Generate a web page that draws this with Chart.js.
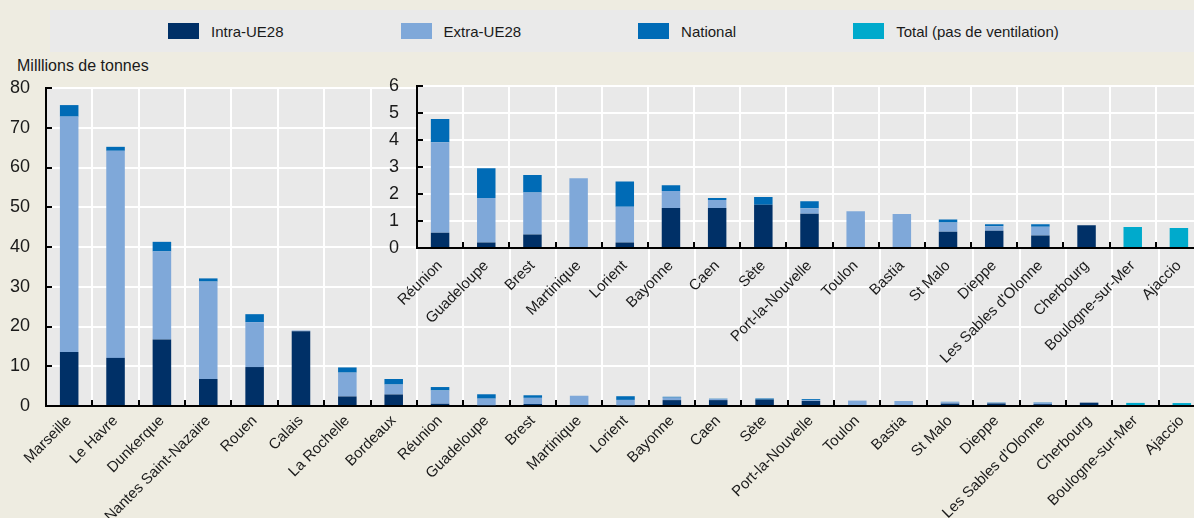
<!DOCTYPE html>
<html lang="fr">
<head>
<meta charset="utf-8">
<title>Trafic des ports français</title>
<script src="https://cdn.jsdelivr.net/npm/chart.js@4.4.1/dist/chart.umd.min.js"></script>
<style>
  html, body { margin: 0; padding: 0; background: #eeece1; overflow: hidden; }
  body { width: 1194px; height: 518px; position: relative; font-family: "Liberation Sans", Arial, sans-serif; }
  #legend { position: absolute; left: 50px; top: 10px; width: 1144px; height: 42px; background: #eaeaea;
            display: flex; align-items: center; padding-left: 118px; box-sizing: border-box; }
  .item { display: flex; align-items: center; margin-right: 117px; font-size: 15px; color: #1a1a1a; }
  .swatch { width: 31px; height: 16px; margin-right: 12px; }
  #unit { position: absolute; left: 17px; top: 58px; font-size: 16px; line-height: 16px; color: #1a1a1a; }
  #mainWrap { position: absolute; left: 0; top: 0; }
  #insetWrap { position: absolute; left: 360px; top: 57px; }
  canvas { display: block; }
</style>
</head>
<body>
<div id="legend"></div>
<div id="unit">Milllions de tonnes</div>
<div id="mainWrap"><canvas id="mainChart" width="1205" height="518"></canvas></div>
<div id="insetWrap"><canvas id="insetChart" width="842" height="321"></canvas></div>
<script>
// Ports, millions of tonnes
const ports = ["Marseille", "Le Havre", "Dunkerque", "Nantes Saint-Nazaire", "Rouen", "Calais",
  "La Rochelle", "Bordeaux", "Réunion", "Guadeloupe", "Brest", "Martinique", "Lorient", "Bayonne",
  "Caen", "Sète", "Port-la-Nouvelle", "Toulon", "Bastia", "St Malo", "Dieppe",
  "Les Sables d'Olonne", "Cherbourg", "Boulogne-sur-Mer", "Ajaccio"];

const intraUE = [13.6, 12.1, 16.7, 6.8, 9.8, 18.8, 2.4, 2.9, 0.56, 0.2, 0.5, null, 0.2, 1.48,
  1.48, 1.6, 1.27, null, null, 0.6, 0.64, 0.46, 0.84, null, null];
const extraUE = [59.2, 52.1, 22.2, 24.5, 11.3, 0.2, 6.0, 2.5, 3.35, 1.65, 1.55, 2.58, 1.33, 0.63,
  0.3, -0.03, 0.2, 1.36, 1.26, 0.34, 0.16, 0.33, null, null, null];
const national = [2.9, 1.0, 2.4, 0.8, 2.0, null, 1.3, 1.4, 0.86, 1.1, 0.65, null, 0.93, 0.21,
  0.07, 0.29, 0.26, null, null, 0.11, 0.08, 0.09, null, null, null];
const totalOnly = [null, null, null, null, null, null, null, null, null, null, null, null, null, null,
  null, null, null, null, null, null, null, null, null, 0.78, 0.74];

const seriesNames = ["Intra-UE28", "Extra-UE28", "National", "Total (pas de ventilation)"];
const seriesColors = ["#003067", "#7fa8d9", "#006bb6", "#00aacc"];

const mainTicks = [0, 10, 20, 30, 40, 50, 60, 70, 80];
const insetTicks = [0, 1, 2, 3, 4, 5, 6];
const insetFrom = ports.indexOf("Réunion");

Chart.defaults.font.family = "'Liberation Sans', Arial, sans-serif";
Chart.defaults.color = "#1a1a1a";

// html legend
const legend = document.getElementById("legend");
seriesNames.forEach((name, i) => {
  const item = document.createElement("div");
  item.className = "item";
  item.innerHTML = `<span class="swatch" style="background:${seriesColors[i]}"></span>${name}`;
  legend.appendChild(item);
});

// grey plot background + inward tick marks
const plotDecor = {
  id: "plotDecor",
  beforeDraw(chart) {
    const { ctx, chartArea: a } = chart;
    ctx.save();
    ctx.fillStyle = "#e9e9e9";
    ctx.fillRect(a.left, a.top, a.right - a.left, a.bottom - a.top);
    ctx.restore();
  },
  afterDraw(chart) {
    const { ctx, chartArea: a, scales: { x, y } } = chart;
    ctx.save();
    ctx.strokeStyle = "#000";
    ctx.lineWidth = 2;
    ctx.beginPath();
    y.ticks.forEach((t, i) => {
      const py = Math.round(y.getPixelForTick(i));
      ctx.moveTo(a.left, py);
      ctx.lineTo(a.left + 6, py);
    });
    for (let i = 1; i < x.ticks.length; i++) {
      const px = Math.round((x.getPixelForTick(i - 1) + x.getPixelForTick(i)) / 2);
      ctx.moveTo(px, a.bottom);
      ctx.lineTo(px, a.bottom - 6);
    }
    ctx.stroke();
    ctx.restore();
  },
};

function makeDatasets(from) {
  const values = [intraUE, extraUE, national, totalOnly];
  return values.map((v, i) => ({
    label: seriesNames[i],
    data: v.slice(from),
    backgroundColor: seriesColors[i],
    barPercentage: 0.4,
    categoryPercentage: 1,
  }));
}

function makeOptions(maxY, tickValues, yWidth, xHeight, padTop, yPad, xPad) {
  return {
    responsive: false,
    animation: false,
    layout: { padding: { top: padTop, right: 0, left: 0, bottom: 0 } },
    plugins: { legend: { display: false }, tooltip: { enabled: false } },
    scales: {
      x: {
        stacked: true,
        grid: { color: "#ffffff", lineWidth: 2, drawTicks: false, offset: true },
        border: { color: "#000", width: 2 },
        ticks: { autoSkip: false, maxRotation: 45, minRotation: 45, padding: xPad, font: { size: 15 } },
        afterFit: (s) => { s.height = xHeight; },
      },
      y: {
        stacked: true,
        min: 0,
        max: maxY,
        grid: { color: "#ffffff", lineWidth: 2, drawTicks: false },
        border: { color: "#000", width: 2 },
        afterBuildTicks: (s) => { s.ticks = tickValues.map((v) => ({ value: v })); },
        ticks: { padding: yPad, font: { size: 18 } },
        afterFit: (s) => { s.width = yWidth; },
      },
    },
  };
}

new Chart(document.getElementById("mainChart"), {
  type: "bar",
  data: { labels: ports, datasets: makeDatasets(0) },
  options: makeOptions(80, mainTicks, 46, 112, 88, 16, 6),
  plugins: [plotDecor],
});

new Chart(document.getElementById("insetChart"), {
  type: "bar",
  data: { labels: ports.slice(insetFrom), datasets: makeDatasets(insetFrom) },
  options: makeOptions(6, insetTicks, 57, 130, 0, 18, 9),
  plugins: [plotDecor],
});
</script>
</body>
</html>
